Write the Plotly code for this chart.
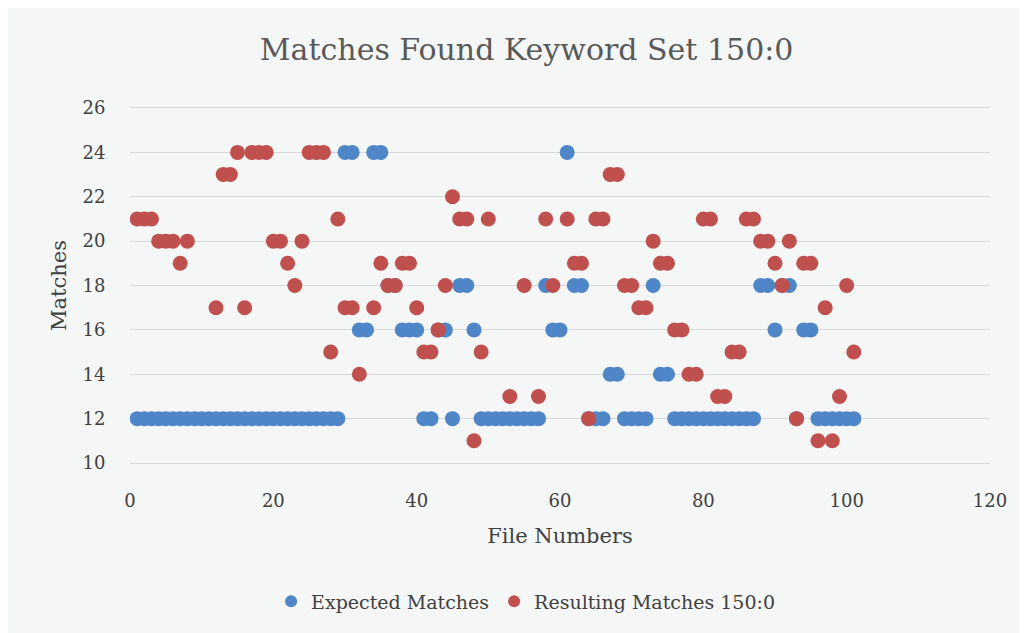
import plotly.graph_objects as go

file_numbers = list(range(1, 102))

expected_matches = [
    12, 12, 12, 12, 12, 12, 12, 12, 12, 12,
    12, 12, 12, 12, 12, 12, 12, 12, 12, 12,
    12, 12, 12, 12, 12, 12, 12, 12, 12, 24,
    24, 16, 16, 24, 24, 18, 18, 16, 16, 16,
    12, 12, 16, 16, 12, 18, 18, 16, 12, 12,
    12, 12, 12, 12, 12, 12, 12, 18, 16, 16,
    24, 18, 18, 12, 12, 12, 14, 14, 12, 12,
    12, 12, 18, 14, 14, 12, 12, 12, 12, 12,
    12, 12, 12, 12, 12, 12, 12, 18, 18, 16,
    18, 18, 12, 16, 16, 12, 12, 12, 12, 12,
    12,
]

resulting_matches = [
    21, 21, 21, 20, 20, 20, 19, 20, None, None,
    None, 17, 23, 23, 24, 17, 24, 24, 24, 20,
    20, 19, 18, 20, 24, 24, 24, 15, 21, 17,
    17, 14, None, 17, 19, 18, 18, 19, 19, 17,
    15, 15, 16, 18, 22, 21, 21, 11, 15, 21,
    None, None, 13, None, 18, None, 13, 21, 18, None,
    21, 19, 19, 12, 21, 21, 23, 23, 18, 18,
    17, 17, 20, 19, 19, 16, 16, 14, 14, 21,
    21, 13, 13, 15, 15, 21, 21, 20, 20, 19,
    18, 20, 12, 19, 19, 11, 17, 11, 13, 18,
    15,
]

series_names = ["Expected Matches", "Resulting Matches 150:0"]
x_ticks = [0, 20, 40, 60, 80, 100, 120]
y_ticks = [10, 12, 14, 16, 18, 20, 22, 24, 26]

serif = "DejaVu Serif"
bg = "#f5f6f6"
grid = "#d6d8da"

fig = go.Figure()
fig.add_trace(go.Scatter(
    x=file_numbers, y=expected_matches, mode="markers", name=series_names[0],
    marker=dict(color="#4f86c8", size=15, line=dict(width=0)),
))
fig.add_trace(go.Scatter(
    x=file_numbers, y=resulting_matches, mode="markers", name=series_names[1],
    marker=dict(color="#c0504d", size=15, line=dict(width=0)),
))

fig.update_layout(
    width=1027, height=633,
    paper_bgcolor=bg, plot_bgcolor=bg,
    margin=dict(l=122, r=45, t=100, b=178),
    title=dict(text="Matches Found Keyword Set 150:0", x=0.505, xanchor="center",
               y=0.934, yanchor="middle",
               font=dict(family=serif, size=30, color="#595959")),
    font=dict(family=serif, color="#404040"),
    showlegend=True,
    legend=dict(orientation="h", x=0.46, xanchor="center", y=-0.39, yanchor="middle",
                font=dict(family=serif, size=19, color="#404040"),
                bgcolor="rgba(0,0,0,0)", itemsizing="constant"),
    xaxis=dict(range=[0, 120], tickvals=x_ticks, showgrid=False, zeroline=False,
               showline=True, mirror=True, linecolor=grid, linewidth=1,
               ticks="outside", ticklen=21, tickcolor="rgba(0,0,0,0)",
               tickfont=dict(size=18, color="#404040"),
               title=dict(text="File Numbers", font=dict(size=21, color="#404040"), standoff=18)),
    yaxis=dict(range=[10, 26], tickvals=y_ticks, showgrid=True, gridcolor=grid,
               gridwidth=1, zeroline=False, showline=False,
               ticks="outside", ticklen=20, tickcolor="rgba(0,0,0,0)",
               tickfont=dict(size=18, color="#404040"),
               title=dict(text="Matches", font=dict(size=21, color="#404040"), standoff=10)),
)

fig.write_html("out.html")
